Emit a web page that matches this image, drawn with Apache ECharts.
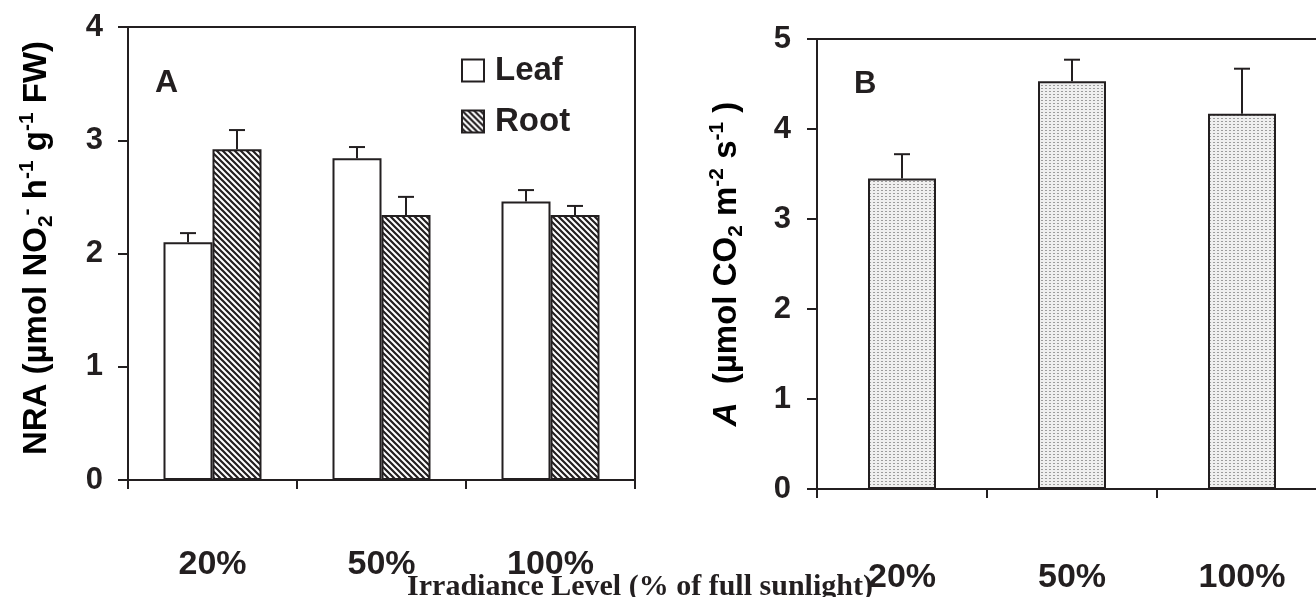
<!DOCTYPE html>
<html>
<head>
<meta charset="utf-8">
<script src="https://cdn.jsdelivr.net/npm/echarts@6/dist/echarts.min.js"></script>
<style>
html,body{margin:0;padding:0;background:#fff;}
#chart{width:1316px;height:597px;}
</style>
</head>
<body>
<div id="chart"></div>
<script>
// ---- data ----
const categories = ['20%', '50%', '100%'];
const leafNRA = [2.10, 2.84, 2.46];
const leafErr = [0.08, 0.10, 0.10];
const rootNRA = [2.92, 2.34, 2.34];
const rootErr = [0.17, 0.16, 0.08];
const photoA = [3.45, 4.53, 4.17];
const photoErr = [0.27, 0.24, 0.50];
const nraTicks = [0, 1, 2, 3, 4];
const aTicks = [0, 1, 2, 3, 4, 5];

// ---- styles ----
const INK = '#231f20';
const SANS = '"Liberation Sans", Arial, sans-serif';
const SERIF = '"Liberation Serif", "Times New Roman", serif';

function hatchPattern() {
  const n = 6;
  const c = document.createElement('canvas');
  c.width = n; c.height = n;
  const g = c.getContext('2d');
  g.fillStyle = '#fff'; g.fillRect(0, 0, n, n);
  g.strokeStyle = INK; g.lineWidth = 2.2;
  g.beginPath();
  g.moveTo(-1, -1); g.lineTo(n + 1, n + 1);
  g.moveTo(-n - 1, -1); g.lineTo(1, n + 1);
  g.moveTo(n - 1, -1); g.lineTo(2 * n + 1, n + 1);
  g.stroke();
  return c;
}
function dotPattern() {
  const c = document.createElement('canvas');
  c.width = 4; c.height = 3;
  const g = c.getContext('2d');
  g.fillStyle = '#efefef'; g.fillRect(0, 0, 4, 3);
  g.fillStyle = '#9c9c9c'; g.fillRect(1, 1, 2, 1);
  return c;
}

const chart = echarts.init(document.getElementById('chart'), null, {renderer: 'canvas'});

function errBar(offset, cap) {
  return function (params, api) {
    const idx = api.value(0), v = api.value(1), e = api.value(2);
    const p0 = api.coord([idx, v]);
    const p1 = api.coord([idx, v + e]);
    const cx = p0[0] + offset;
    const st = {stroke: INK, lineWidth: 2};
    return {
      type: 'group',
      children: [
        {type: 'line', shape: {x1: cx, y1: p0[1], x2: cx, y2: p1[1]}, style: st},
        {type: 'line', shape: {x1: cx - cap, y1: p1[1], x2: cx + cap, y2: p1[1]}, style: st}
      ]
    };
  };
}

const axisLineStyle = {color: INK, width: 2};
const richName = {
  b: {fontFamily: SANS, fontWeight: 'bold', fontSize: 33, lineHeight: 40, color: INK},
  i: {fontFamily: SANS, fontWeight: 'bold', fontStyle: 'italic', fontSize: 33, lineHeight: 40, color: INK},
  sup: {fontFamily: SANS, fontWeight: 'bold', fontSize: 21, lineHeight: 21, verticalAlign: 'top', color: INK},
  sub: {fontFamily: SANS, fontWeight: 'bold', fontSize: 21, lineHeight: 21, verticalAlign: 'bottom', color: INK}
};

const option = {
  backgroundColor: '#fff',
  animation: false,
  grid: [
    {left: 128, top: 27, width: 507, height: 453, show: true, borderColor: INK, borderWidth: 2,
     backgroundColor: 'transparent', outerBoundsMode: 'none', containLabel: false},
    {left: 817, top: 39, width: 510, height: 450, show: true, borderColor: INK, borderWidth: 2,
     backgroundColor: 'transparent', outerBoundsMode: 'none', containLabel: false}
  ],
  legend: {
    data: ['Leaf', 'Root'],
    orient: 'vertical',
    left: 456, top: 49,
    itemWidth: 22, itemHeight: 22, itemGap: 18,
    icon: 'rect',
    textStyle: {fontFamily: SANS, fontWeight: 'bold', fontSize: 33, color: INK, padding: [0, 0, 0, 6]}
  },
  xAxis: [
    {type: 'category', gridIndex: 0, data: categories,
     axisLine: {lineStyle: axisLineStyle},
     axisTick: {show: true, length: 9, inside: false, lineStyle: axisLineStyle},
     axisLabel: {margin: 68, fontFamily: SANS, fontWeight: 'bold', fontSize: 34, color: INK}},
    {type: 'category', gridIndex: 1, data: categories,
     axisLine: {lineStyle: axisLineStyle},
     axisTick: {show: true, length: 9, inside: false, lineStyle: axisLineStyle},
     axisLabel: {margin: 72, fontFamily: SANS, fontWeight: 'bold', fontSize: 34, color: INK}}
  ],
  yAxis: [
    {type: 'value', gridIndex: 0, min: nraTicks[0], max: nraTicks[nraTicks.length - 1], interval: 1,
     splitLine: {show: false},
     axisLine: {show: true, lineStyle: axisLineStyle},
     axisTick: {show: true, length: 10, lineStyle: axisLineStyle},
     axisLabel: {margin: 25, fontFamily: SANS, fontWeight: 'bold', fontSize: 31, color: INK}},
    {type: 'value', gridIndex: 1, min: aTicks[0], max: aTicks[aTicks.length - 1], interval: 1,
     splitLine: {show: false},
     axisLine: {show: true, lineStyle: axisLineStyle},
     axisTick: {show: true, length: 10, lineStyle: axisLineStyle},
     axisLabel: {margin: 26, fontFamily: SANS, fontWeight: 'bold', fontSize: 31, color: INK}}
  ],
  series: [
    {name: 'Leaf', type: 'bar', xAxisIndex: 0, yAxisIndex: 0, data: leafNRA,
     barWidth: 49, barGap: '0%',
     itemStyle: {color: '#ffffff', borderColor: INK, borderWidth: 2}},
    {name: 'Root', type: 'bar', xAxisIndex: 0, yAxisIndex: 0, data: rootNRA,
     barWidth: 49, barGap: '0%',
     itemStyle: {color: {image: hatchPattern(), repeat: 'repeat'}, borderColor: INK, borderWidth: 2}},
    {name: 'A', type: 'bar', xAxisIndex: 1, yAxisIndex: 1, data: photoA,
     barWidth: 68,
     itemStyle: {color: {image: dotPattern(), repeat: 'repeat'}, borderColor: INK, borderWidth: 2}},
    {type: 'custom', xAxisIndex: 0, yAxisIndex: 0, z: 5,
     data: categories.map((c, i) => [i, leafNRA[i], leafErr[i]]),
     renderItem: errBar(-24.5, 8)},
    {type: 'custom', xAxisIndex: 0, yAxisIndex: 0, z: 5,
     data: categories.map((c, i) => [i, rootNRA[i], rootErr[i]]),
     renderItem: errBar(24.5, 8)},
    {type: 'custom', xAxisIndex: 1, yAxisIndex: 1, z: 5,
     data: categories.map((c, i) => [i, photoA[i], photoErr[i]]),
     renderItem: errBar(0, 8)}
  ],
  graphic: [
    {type: 'text', x: 37, y: 248, rotation: Math.PI / 2,
     style: {text: '{b|NRA (µmol NO}{sub|2}{sup|-}{b| h}{sup|-1}{b| g}{sup|-1}{b| FW)}',
             rich: richName, align: 'center', verticalAlign: 'middle'}},
    {type: 'text', x: 727, y: 264, rotation: Math.PI / 2,
     style: {text: '{i|A}{b|  (µmol CO}{sub|2}{b| m}{sup|-2}{b| s}{sup|-1}{b| )}',
             rich: richName, align: 'center', verticalAlign: 'middle'}},
    {type: 'text', left: 155, top: 67,
     style: {text: 'A', fontFamily: SANS, fontWeight: 'bold', fontSize: 32, fill: INK}},
    {type: 'text', left: 854, top: 69,
     style: {text: 'B', fontFamily: SANS, fontWeight: 'bold', fontSize: 31, fill: INK}},
    {type: 'text', x: 640, y: 572,
     style: {text: 'Irradiance Level (% of full sunlight)', fontFamily: SERIF, fontWeight: 'bold',
             fontSize: 30, fill: INK, align: 'center', verticalAlign: 'top'}}
  ]
};
chart.setOption(option);
</script>
</body>
</html>
